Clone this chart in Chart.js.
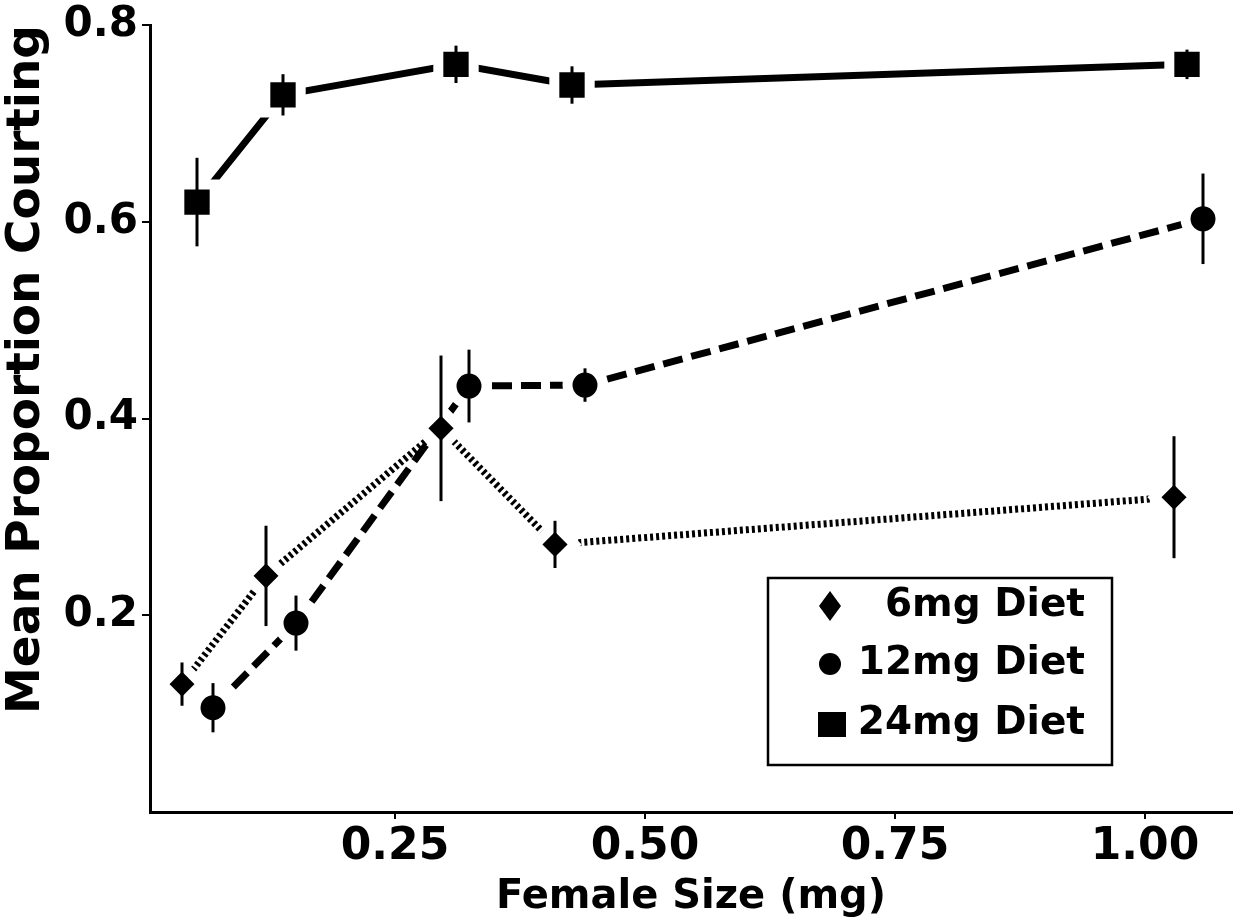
<!DOCTYPE html>
<html><head><meta charset="utf-8">
<style>html,body{margin:0;padding:0;background:#fff;} canvas{display:block;}</style>
<script src="https://cdn.jsdelivr.net/npm/chart.js@4.4.1/dist/chart.umd.min.js"></script>
</head><body>
<canvas id="c" width="1253" height="922"></canvas>
<script>
// ---- data ----
const seriesNames = ['6mg Diet', '12mg Diet', '24mg Diet'];
const x6  = [0.037, 0.121, 0.296, 0.410, 1.029];
const y6  = [0.130, 0.240, 0.390, 0.272, 0.320];
const e6  = [0.022, 0.051, 0.074, 0.024, 0.062];
const x12 = [0.068, 0.151, 0.324, 0.440, 1.058];
const y12 = [0.106, 0.192, 0.433, 0.434, 0.603];
const e12 = [0.025, 0.028, 0.037, 0.017, 0.046];
const x24 = [0.052, 0.138, 0.311, 0.427, 1.042];
const y24 = [0.620, 0.729, 0.760, 0.739, 0.760];
const e24 = [0.045, 0.021, 0.019, 0.019, 0.015];
const xTicks = [0.25, 0.50, 0.75, 1.00];
const yTicks = [0.2, 0.4, 0.6, 0.8];
const xTitle = 'Female Size (mg)';
const yTitle = 'Mean Proportion Courting';

const FONT = 'DejaVu Sans';
function pts(xs, ys) { return xs.map((x, i) => ({x: x, y: ys[i]})); }

const errs = [e6, e12, e24];

const errorBars = {
  id: 'errorBars',
  afterDatasetsDraw(chart) {
    const ctx = chart.ctx, xs = chart.scales.x, ys = chart.scales.y;
    ctx.save();
    ctx.strokeStyle = '#000';
    ctx.lineWidth = 3;
    chart.data.datasets.forEach((ds, di) => {
      ds.data.forEach((p, i) => {
        const e = errs[di][i];
        const px = xs.getPixelForValue(p.x);
        ctx.beginPath();
        ctx.moveTo(px, ys.getPixelForValue(p.y + e));
        ctx.lineTo(px, ys.getPixelForValue(p.y - e));
        ctx.stroke();
      });
    });
    ctx.restore();
  }
};

const boxLegend = {
  id: 'boxLegend',
  afterDraw(chart) {
    const ctx = chart.ctx;
    const L = 768, T = 578, R = 1112, B = 765;
    ctx.save();
    ctx.fillStyle = '#fff';
    ctx.fillRect(L, T, R - L, B - T);
    ctx.strokeStyle = '#000';
    ctx.lineWidth = 2.5;
    ctx.strokeRect(L, T, R - L, B - T);
    const rows = [606, 664, 724];
    const mx = 830;
    ctx.fillStyle = '#000';
    // diamond
    ctx.beginPath();
    ctx.moveTo(mx, rows[0] - 15); ctx.lineTo(mx + 11, rows[0]);
    ctx.lineTo(mx, rows[0] + 15); ctx.lineTo(mx - 11, rows[0]); ctx.closePath(); ctx.fill();
    // circle
    ctx.beginPath(); ctx.arc(mx, rows[1], 11, 0, Math.PI * 2); ctx.fill();
    // square
    ctx.fillRect(mx - 12, rows[2] - 12, 28, 25);
    ctx.font = 'bold 39px "' + FONT + '"';
    ctx.textAlign = 'right';
    ctx.textBaseline = 'middle';
    seriesNames.forEach((n, i) => ctx.fillText(n, 1085, rows[i]));
    ctx.restore();
  }
};

new Chart(document.getElementById('c'), {
  type: 'line',
  data: {
    datasets: [
      { label: seriesNames[0], data: pts(x6, y6), borderColor: '#000', backgroundColor: '#000',
        borderWidth: 7, borderDash: [3, 3], pointStyle: 'rectRot', pointRadius: 19.6,
        pointBackgroundColor: '#000', pointBorderColor: '#fff', pointBorderWidth: 10 },
      { label: seriesNames[1], data: pts(x12, y12), borderColor: '#000', backgroundColor: '#000',
        borderWidth: 7, borderDash: [20, 9], pointStyle: 'circle', pointRadius: 17.5,
        pointBackgroundColor: '#000', pointBorderColor: '#fff', pointBorderWidth: 10 },
      { label: seriesNames[2], data: pts(x24, y24), borderColor: '#000', backgroundColor: '#000',
        borderWidth: 7, pointStyle: 'rect', pointRadius: 25,
        pointBackgroundColor: '#000', pointBorderColor: '#fff', pointBorderWidth: 10 }
    ]
  },
  options: {
    responsive: false,
    animation: false,
    events: [],
    devicePixelRatio: 1,
    layout: { autoPadding: false, padding: { top: 22, right: 21, left: 0, bottom: 0 } },
    plugins: { legend: { display: false }, tooltip: { enabled: false } },
    scales: {
      x: {
        type: 'linear', min: 0.005, max: 1.087,
        afterBuildTicks: s => { s.ticks = xTicks.map(v => ({value: v})); },
        afterFit: s => { s.height = 110; },
        ticks: { callback: v => Number(v).toFixed(2), color: '#000', padding: 7,
                 font: { family: FONT, size: 44, weight: 'bold', lineHeight: 1 } },
        grid: { display: true, drawOnChartArea: false, drawTicks: true, tickLength: 7, color: '#000', lineWidth: 2 },
        border: { display: true, color: '#000', width: 3 },
        title: { display: true, text: xTitle, color: '#000', padding: { top: 0, bottom: 0 },
                 font: { family: FONT, size: 40, weight: 'bold', lineHeight: 1.2 } }
      },
      y: {
        type: 'linear', min: 0, max: 0.8,
        afterBuildTicks: s => { s.ticks = yTicks.map(v => ({value: v})); },
        afterFit: s => { s.width = 150; },
        ticks: { callback: v => Number(v).toFixed(1), color: '#000', padding: 4,
                 font: { family: FONT, size: 42, weight: 'bold', lineHeight: 1 } },
        grid: { display: true, drawOnChartArea: false, drawTicks: true, tickLength: 8, color: '#000', lineWidth: 2 },
        border: { display: true, color: '#000', width: 3 },
        title: { display: true, text: yTitle, color: '#000', align: 'end', padding: { top: 0, bottom: 0 },
                 font: { family: FONT, size: 47, weight: 'bold', lineHeight: 1.12 } }
      }
    }
  },
  plugins: [errorBars, boxLegend]
});
</script>
</body></html>
